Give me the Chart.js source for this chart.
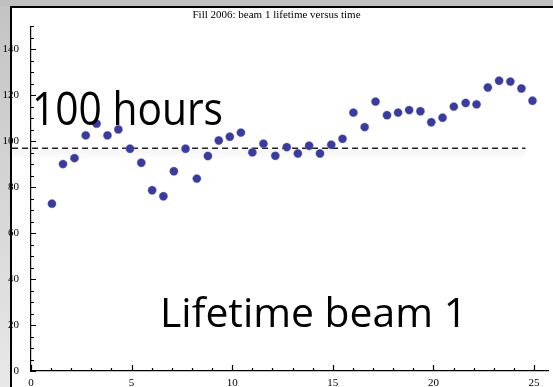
<!DOCTYPE html>
<html>
<head>
<meta charset="utf-8">
<script src="https://cdn.jsdelivr.net/npm/chart.js@4.4.1/dist/chart.umd.min.js"></script>
<style>
  html, body { margin: 0; padding: 0; background: #fff; overflow: hidden; }
  canvas { display: block; }
</style>
</head>
<body>
<canvas id="c" width="553" height="387"></canvas>
<script>
// ---- data ----
const times = [1.04,1.59,2.16,2.72,3.26,3.80,4.34,4.92,5.48,6.02,6.58,7.10,7.68,8.24,8.79,9.33,9.88,10.43,11.00,11.55,12.14,12.71,13.26,13.82,14.36,14.92,15.48,16.02,16.58,17.12,17.69,18.24,18.79,19.35,19.89,20.45,21.01,21.60,22.14,22.70,23.26,23.82,24.37,24.92];
const lifetime = [72.8,90.0,92.6,102.5,107.6,102.5,105.1,96.7,90.6,78.6,76.0,86.9,96.7,83.7,93.5,100.3,101.9,103.7,95.1,98.9,93.6,97.4,94.6,98.0,94.6,98.4,101.0,112.4,106.1,117.2,111.3,112.4,113.5,113.0,108.2,110.2,115.0,116.6,116.0,123.3,126.3,125.9,122.9,117.6];
const refLineX = [-0.94, 24.57];
const refLineY = [96.9, 96.9];
const xTickLabels = [0, 5, 10, 15, 20, 25];
const yTickLabels = [0, 20, 40, 60, 80, 100, 120, 140];
const xMinorStep = 1;
const yMinorStep = 5;
const xRange = [0, 25.7];
const yRange = [0, 150];
const titleText = 'Fill 2006: beam 1 lifetime versus time';
const note1 = '100 hours';
const note2 = 'Lifetime beam 1';

const serif = "'Liberation Serif', 'DejaVu Serif', serif";
const sans = "'Open Sans', 'Noto Sans', sans-serif";

const framePlugin = {
  id: 'frame',
  beforeDraw(chart) {
    const ctx = chart.ctx, W = chart.width, H = chart.height;
    ctx.save();
    ctx.fillStyle = '#ffffff';
    ctx.fillRect(0, 0, W, H);
    ctx.fillStyle = '#c0c0c0';
    ctx.fillRect(0, 0, W, 6);
    const g = ctx.createLinearGradient(0, 0, 0, H);
    g.addColorStop(0, '#c3c3c3');
    g.addColorStop(1, '#e8e8e8');
    ctx.fillStyle = g;
    ctx.fillRect(0, 6, 10, H - 6);
    ctx.fillStyle = '#000';
    ctx.fillRect(10, 6, W - 10, 2);
    ctx.fillRect(10, 6, 2, H - 6);
    ctx.restore();
  },
  beforeDatasetsDraw(chart) {
    const ctx = chart.ctx, xs = chart.scales.x, ys = chart.scales.y;
    const x0 = xs.getPixelForValue(refLineX[0]);
    const x1 = xs.getPixelForValue(refLineX[1]);
    const y = ys.getPixelForValue(refLineY[0]);
    ctx.save();
    const g = ctx.createLinearGradient(0, y + 1, 0, y + 12);
    g.addColorStop(0, 'rgba(0,0,0,0.045)');
    g.addColorStop(1, 'rgba(0,0,0,0)');
    ctx.fillStyle = g;
    ctx.fillRect(x0, y + 1, x1 - x0, 11);
    ctx.restore();
  },
  afterDatasetsDraw(chart) {
    const ctx = chart.ctx, xs = chart.scales.x, ys = chart.scales.y;
    const a = chart.chartArea;
    ctx.save();
    ctx.strokeStyle = '#000';
    ctx.lineWidth = 1.2;
    ctx.beginPath();
    for (let v = xTickLabels[0]; v <= xTickLabels[xTickLabels.length - 1] + 1e-9; v += xMinorStep) {
      const px = Math.round(xs.getPixelForValue(v)) + 0.5;
      const len = xTickLabels.includes(v) ? 6 : 3;
      ctx.moveTo(px, a.bottom);
      ctx.lineTo(px, a.bottom - len);
    }
    for (let v = yRange[0]; v <= yRange[1] + 1e-9; v += yMinorStep) {
      const py = Math.round(ys.getPixelForValue(v)) + 0.5;
      const len = yTickLabels.includes(v) ? 5 : 3;
      ctx.moveTo(a.left, py);
      ctx.lineTo(a.left + len, py);
    }
    ctx.stroke();
    ctx.restore();
  },
  afterDraw(chart) {
    const ctx = chart.ctx;
    function fitText(text, left, baseline, width, capH) {
      const size = capH / 0.714;
      ctx.save();
      ctx.font = size + 'px ' + sans;
      const w = ctx.measureText(text).width;
      ctx.translate(left, baseline);
      ctx.scale(width / w, 1);
      ctx.fillStyle = '#000';
      ctx.textBaseline = 'alphabetic';
      ctx.textAlign = 'left';
      ctx.fillText(text, 0, 0);
      ctx.restore();
    }
    fitText(note1, 32, 125, 191, 33);
    fitText(note2, 160, 326.5, 307, 29);
  }
};

new Chart(document.getElementById('c'), {
  data: {
    datasets: [
      {
        type: 'scatter',
        data: times.map((t, i) => ({ x: t, y: lifetime[i] })),
        backgroundColor: '#3b3b99',
        borderColor: 'rgba(120,120,200,0.6)',
        borderWidth: 0.6,
        pointRadius: 4.2,
        pointHoverRadius: 4.2,
        order: 0
      },
      {
        type: 'line',
        data: refLineX.map((x, i) => ({ x: x, y: refLineY[i] })),
        borderColor: '#222',
        borderWidth: 1.3,
        borderDash: [6, 4],
        pointRadius: 0,
        fill: false,
        clip: false,
        order: 1
      }
    ]
  },
  options: {
    responsive: false,
    animation: false,
    devicePixelRatio: 1,
    layout: { padding: 0 },
    plugins: {
      legend: { display: false },
      tooltip: { enabled: false },
      title: {
        display: true,
        text: titleText,
        color: '#000',
        font: { family: serif, size: 11, weight: 'normal' },
        padding: { top: 9, bottom: 4 }
      }
    },
    scales: {
      x: {
        type: 'linear',
        min: xRange[0],
        max: xRange[1],
        grid: { display: false },
        border: { display: true, color: '#000', width: 1.2 },
        afterBuildTicks(s) { s.ticks = xTickLabels.map(v => ({ value: v })); },
        afterFit(s) { s.height = 16; },
        ticks: {
          color: '#000',
          padding: -2,
          maxRotation: 0,
          autoSkip: false,
          font: { family: serif, size: 11 }
        }
      },
      y: {
        type: 'linear',
        min: yRange[0],
        max: yRange[1],
        grid: { display: false },
        border: { display: true, color: '#000', width: 1.2 },
        afterBuildTicks(s) { s.ticks = yTickLabels.map(v => ({ value: v })); },
        afterFit(s) { s.width = 31; },
        ticks: {
          color: '#000',
          padding: 4,
          autoSkip: false,
          font: { family: serif, size: 11 }
        }
      }
    }
  },
  plugins: [framePlugin]
});
</script>
</body>
</html>
